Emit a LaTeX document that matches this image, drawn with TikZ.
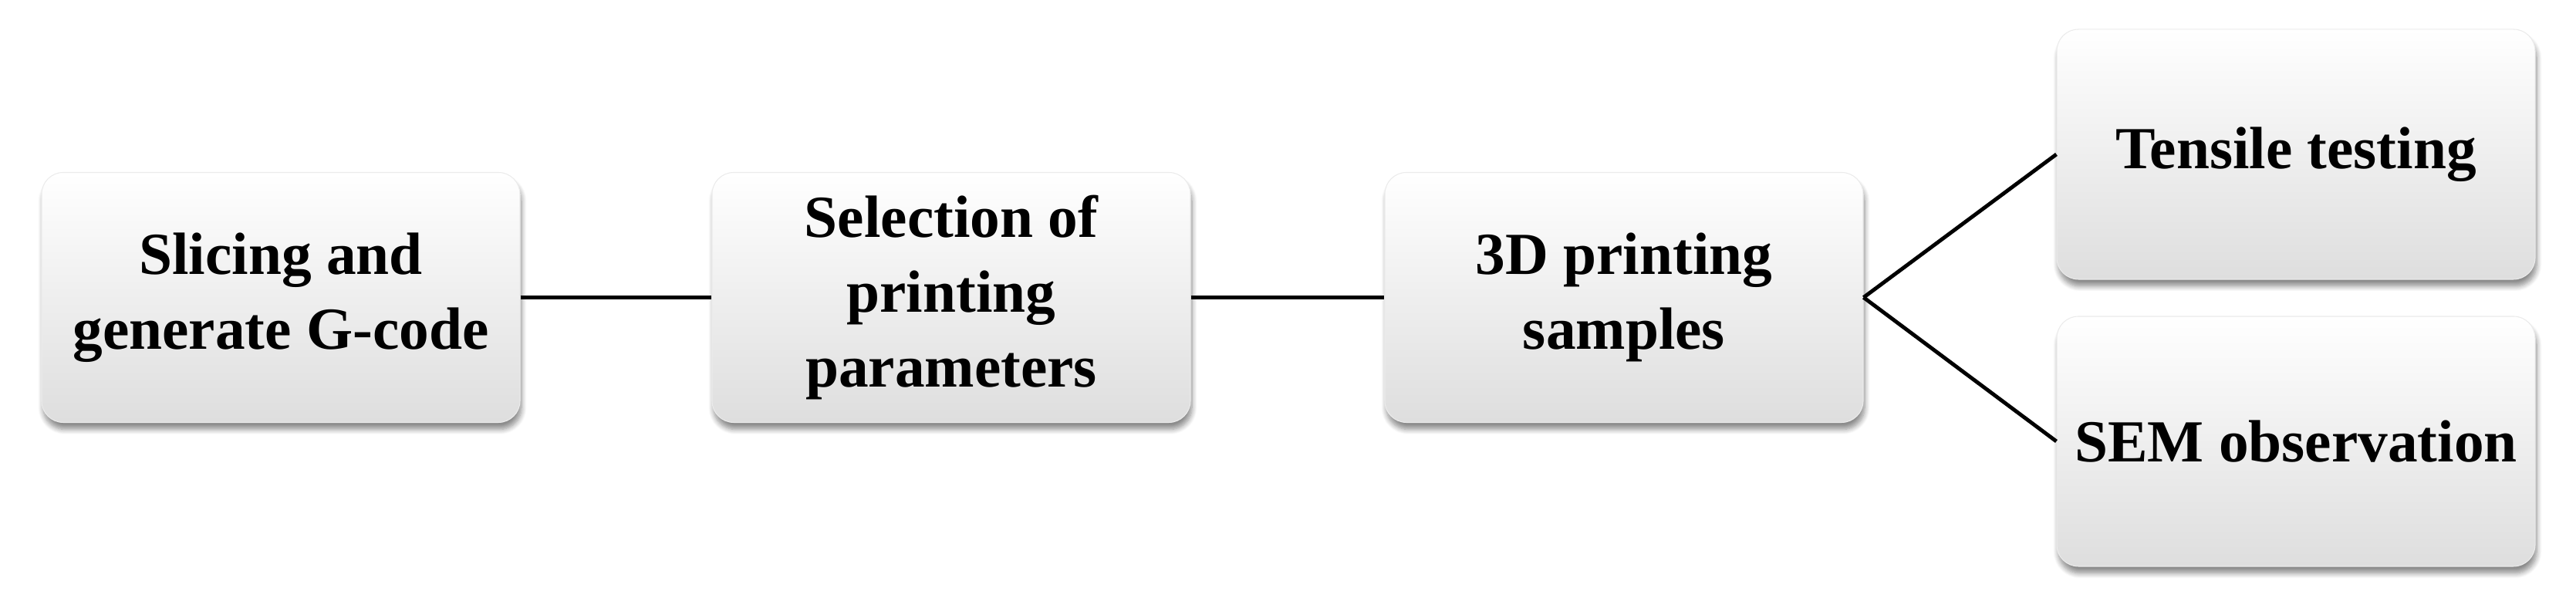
\documentclass[tikz,border=0pt]{standalone}
\usepackage{fontspec}
\setmainfont{Liberation Serif}
\usetikzlibrary{shadows.blur}
\tikzset{
  stagebox/.style={rectangle, rounded corners=0.28cm, minimum width=6.2cm, minimum height=3.24cm,
    align=center, inner sep=0pt,
    top color=white, middle color=white, bottom color=black!13,
    draw=black!8, line width=0.3pt,
    blur shadow={shadow xshift=0.02cm, shadow yshift=-0.09cm, shadow blur steps=8, shadow opacity=45},
    font=\fontsize{22}{27.5}\selectfont\bfseries},
  link/.style={draw=black, line width=1.4pt}
}
\begin{document}
\begin{tikzpicture}
\useasboundingbox (0,0) rectangle (33.39,7.75);
\node[stagebox] (slice) at (3.64,3.895) {Slicing and\\generate G-code};
\node[stagebox] (select) at (12.33,3.895) {Selection of\\printing\\parameters};
\node[stagebox] (print) at (21.05,3.895) {3D printing\\samples};
\node[stagebox] (tensile) at (29.76,5.75) {Tensile testing};
\node[stagebox] (sem) at (29.76,2.03) {SEM observation};
\draw[link] (slice.east) -- (select.west);
\draw[link] (select.east) -- (print.west);
\draw[link] (print.east) -- (tensile.west);
\draw[link] (print.east) -- (sem.west);
\end{tikzpicture}
\end{document}
